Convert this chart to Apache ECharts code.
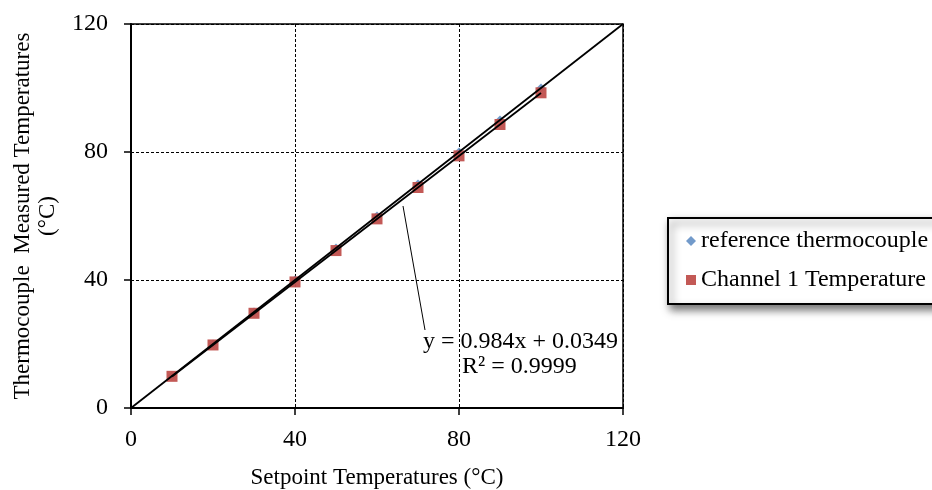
<!DOCTYPE html>
<html><head><meta charset="utf-8">
<script src="https://cdn.jsdelivr.net/npm/echarts@6/dist/echarts.min.js"></script>
<style>html,body{margin:0;padding:0;background:#fff}#c{width:932px;height:490px}</style>
</head><body><div id="c"></div>
<script>
const setpoints = [10, 20, 30, 40, 50, 60, 70, 80, 90, 100];
const referenceTemps = [10, 20, 30, 40, 50, 60, 70, 80, 90, 100];
const channel1Temps = [9.9, 19.7, 29.6, 39.4, 49.2, 59.1, 68.9, 78.8, 88.6, 98.5];
const idealLineX = [0, 120];
const idealLineY = [0, 120];
const trendX = [10, 100];
const trendY = [9.87, 98.43];
const axisMin = 0, axisMax = 120, axisStep = 40;
const xTitle = 'Setpoint Temperatures (°C)';
const yTitle = 'Thermocouple  Measured Temperatures\n(°C)';
const eqLine1 = 'y = 0.984x + 0.0349';
const eqLine2 = 'R² = 0.9999';

const FONT = "'Liberation Serif', 'Times New Roman', serif";
const zip = (a, b) => a.map((v, i) => [v, b[i]]);

const chart = echarts.init(document.getElementById('c'), null, {renderer: 'canvas'});
const axisCommon = {
  type: 'value', min: axisMin, max: axisMax, interval: axisStep,
  axisLine: {show: true, onZero: false, lineStyle: {color: '#000', width: 2}},
  axisTick: {show: true, length: 7, lineStyle: {color: '#000', width: 1.5}},
  axisLabel: {color: '#000', fontFamily: FONT, fontSize: 24},
  splitLine: {show: true, lineStyle: {color: '#000', width: 1, type: [3, 2]}},
  nameTextStyle: {color: '#000', fontFamily: FONT, fontSize: 23}
};
chart.setOption({
  animation: false,
  backgroundColor: '#fff',
  grid: {left: 131, top: 24, width: 492, height: 384, outerBoundsMode: 'none', containLabel: false,
         show: true, borderColor: '#000', borderWidth: 1.5, backgroundColor: 'transparent'},
  xAxis: Object.assign({}, axisCommon, {
    name: xTitle, nameLocation: 'middle', nameGap: 58,
    axisLabel: Object.assign({}, axisCommon.axisLabel, {margin: 20})
  }),
  yAxis: Object.assign({}, axisCommon, {
    name: yTitle, nameLocation: 'middle', nameGap: 71, nameRotate: 90,
    nameTextStyle: Object.assign({}, axisCommon.nameTextStyle, {lineHeight: 25}),
    axisLabel: Object.assign({}, axisCommon.axisLabel, {margin: 23})
  }),
  legend: {
    orient: 'vertical', left: 668, top: 218,
    padding: [11, 20, 12, 18], itemGap: 15, itemWidth: 10, itemHeight: 10,
    backgroundColor: '#fff', borderColor: '#000', borderWidth: 2,
    shadowBlur: 8, shadowColor: 'rgba(0,0,0,0.55)', shadowOffsetX: 3, shadowOffsetY: 5,
    textStyle: {color: '#000', fontFamily: FONT, fontSize: 24, lineHeight: 24},
    data: [
      {name: 'reference thermocouple', icon: 'diamond', itemStyle: {color: '#4F81BD'}},
      {name: 'Channel 1 Temperature', icon: 'rect', itemStyle: {color: '#C0504D'}}
    ]
  },
  series: [
    {name: 'reference thermocouple', type: 'scatter', symbol: 'diamond', symbolSize: 9,
     itemStyle: {color: '#4F81BD'}, z: 2, data: zip(setpoints, referenceTemps)},
    {name: 'Channel 1 Temperature', type: 'scatter', symbol: 'rect', symbolSize: 11,
     itemStyle: {color: '#C0504D', opacity: 0.95}, z: 3, data: zip(setpoints, channel1Temps)},
    {name: 'ideal', type: 'line', symbol: 'none', z: 4, silent: true,
     lineStyle: {color: '#000', width: 1.8}, data: zip(idealLineX, idealLineY)},
    {name: 'trend', type: 'line', symbol: 'none', z: 4, silent: true,
     lineStyle: {color: '#000', width: 1.8}, data: zip(trendX, trendY)}
  ],
  graphic: [
    {type: 'line', shape: {x1: 403, y1: 206, x2: 425, y2: 330}, style: {stroke: '#000', lineWidth: 1}, z: 10},
    {type: 'text', left: 423, top: 330, style: {text: eqLine1, font: "24px " + FONT, fill: '#000'}, z: 10},
    {type: 'text', left: 462, top: 355, style: {text: eqLine2, font: "24px " + FONT, fill: '#000'}, z: 10}
  ]
});
</script></body></html>
